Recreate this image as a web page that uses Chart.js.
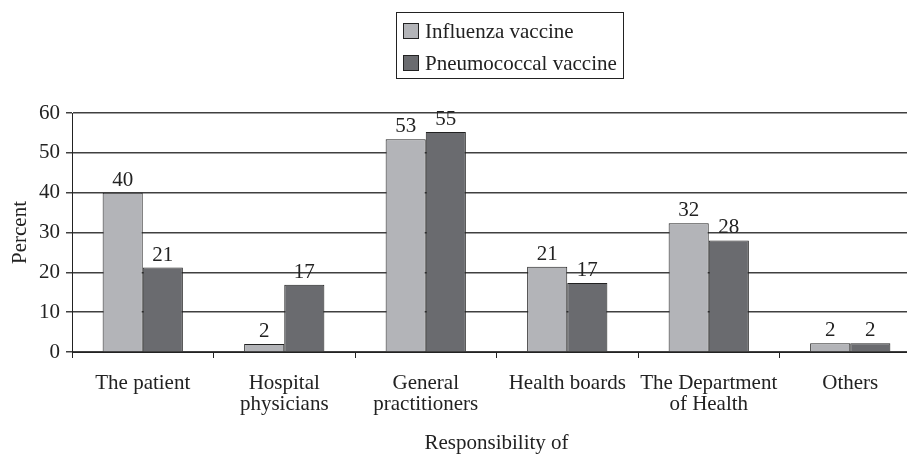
<!DOCTYPE html>
<html>
<head>
<meta charset="utf-8">
<script src="https://cdn.jsdelivr.net/npm/chart.js@4.4.0/dist/chart.umd.min.js"></script>
<style>
  html, body { margin: 0; padding: 0; background: #fff; overflow: hidden; }
  canvas { display: block; }
</style>
</head>
<body>
<canvas id="myChart" width="930" height="457"></canvas>
<script>
// datos
const categories = [
    'The patient',
    ['Hospital', 'physicians'],
    ['General', 'practitioners'],
    'Health boards',
    ['The Department', 'of Health'],
    'Others'
];
const influenza = [40, 2, 53.4, 21.4, 32.3, 2.2];
const pneumococcal = [21.2, 16.9, 55.2, 17.3, 28, 2.2];
const yTicks = [0, 10, 20, 30, 40, 50, 60];

const FONT = "'Liberation Serif', 'Times New Roman', serif";
const INK = '#222';

// leyenda con recuadro, dibujada a mano
const boxLegend = {
    id: 'boxLegend',
    afterDraw(chart) {
        const ctx = chart.ctx;
        ctx.save();
        ctx.strokeStyle = INK;
        ctx.lineWidth = 1;
        ctx.strokeRect(396.5, 12.5, 227, 66);
        ctx.font = '21px ' + FONT;
        ctx.textBaseline = 'middle';
        ctx.textAlign = 'left';
        chart.data.datasets.forEach((ds, i) => {
            const cy = 31 + i * 32;
            ctx.fillStyle = ds.backgroundColor;
            ctx.fillRect(403, cy - 8, 16, 16);
            ctx.strokeStyle = INK;
            ctx.strokeRect(403.5, cy - 7.5, 15, 15);
            ctx.fillStyle = INK;
            ctx.fillText(ds.label, 425, cy + 1);
        });
        ctx.restore();
    }
};

// etiquetas de valor sobre cada barra
const valueLabels = {
    id: 'valueLabels',
    afterDatasetsDraw(chart) {
        const ctx = chart.ctx;
        ctx.save();
        ctx.font = '21px ' + FONT;
        ctx.fillStyle = INK;
        ctx.textAlign = 'center';
        ctx.textBaseline = 'alphabetic';
        chart.data.datasets.forEach((ds, i) => {
            chart.getDatasetMeta(i).data.forEach((bar, j) => {
                ctx.fillText(Math.round(ds.data[j]), bar.x, bar.y - 7);
            });
        });
        ctx.restore();
    }
};

const ctx = document.getElementById('myChart').getContext('2d');

new Chart(ctx, {
    type: 'bar',
    data: {
        labels: categories,
        datasets: [{
            label: 'Influenza vaccine',
            data: influenza,
            backgroundColor: '#b3b4b8',
            borderColor: INK,
            borderWidth: 1
        }, {
            label: 'Pneumococcal vaccine',
            data: pneumococcal,
            backgroundColor: '#6a6b6f',
            borderColor: INK,
            borderWidth: 1
        }]
    },
    options: {
        responsive: false,
        animation: false,
        layout: { padding: { top: 113, right: 9, left: 0, bottom: 0 } },
        datasets: {
            bar: { categoryPercentage: 0.567, barPercentage: 1 }
        },
        plugins: {
            legend: { display: false },
            tooltip: { enabled: false }
        },
        scales: {
            x: {
                afterFit(scale) { scale.height = 105; },
                grid: {
                    offset: true,
                    drawOnChartArea: false,
                    tickLength: 6,
                    color: INK
                },
                border: { color: INK, width: 1 },
                ticks: {
                    color: INK,
                    padding: 15,
                    maxRotation: 0,
                    autoSkip: false,
                    font: { family: FONT, size: 21, lineHeight: 1.0 }
                },
                title: {
                    display: true,
                    text: 'Responsibility of',
                    color: INK,
                    padding: { top: 0, bottom: 0.5 },
                    font: { family: FONT, size: 21 }
                }
            },
            y: {
                min: 0,
                max: 60,
                afterFit(scale) { scale.width = 72; },
                afterBuildTicks(scale) {
                    scale.ticks = yTicks.map(v => ({ value: v }));
                },
                grid: {
                    color: '#404040',
                    lineWidth: 1.5,
                    tickLength: 6
                },
                border: { color: INK, width: 1 },
                ticks: {
                    color: INK,
                    padding: 6,
                    font: { family: FONT, size: 21 }
                },
                title: {
                    display: true,
                    text: 'Percent',
                    color: INK,
                    padding: { top: 7.4 },
                    font: { family: FONT, size: 21 }
                }
            }
        }
    },
    plugins: [boxLegend, valueLabels]
});
</script>
</body>
</html>
